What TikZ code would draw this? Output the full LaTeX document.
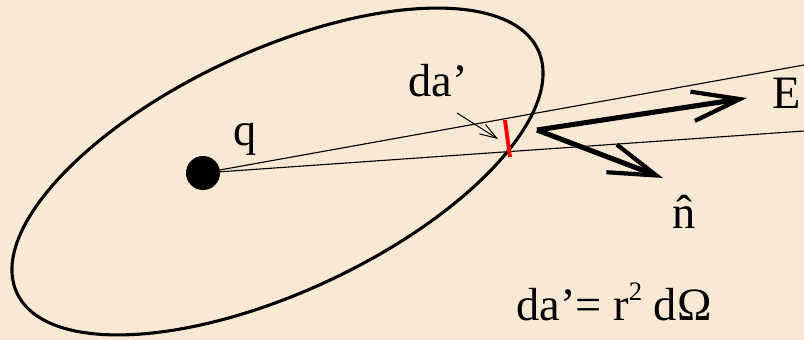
\documentclass[tikz,border=0pt]{standalone}
\usepackage{fontspec}
\setmainfont{Liberation Serif}
\usetikzlibrary{arrows.meta}
\definecolor{sfondo}{RGB}{248,232,212}
\newcommand{\apice}[1]{\raisebox{14pt}{\fontsize{19}{19}\selectfont #1}}

\begin{document}
\begin{tikzpicture}[x=0.025cm, y=-0.025cm]
	% Stili per testi e frecce di questa figura
	\tikzset{etichetta/.style={font=\fontsize{33}{38}\selectfont, inner sep=0pt},
		raggio/.style={line width=0.8pt},
		freccia/.style={line width=3.6pt, -{Straight Barb[length=34pt, width=21pt, line width=3pt]}}}
	
	% Sfondo e bordo della figura
	\fill[sfondo] (0,0) rectangle (804,340);
	\useasboundingbox (0,0) rectangle (804,340);
	
	% Superficie chiusa attorno alla carica
	\draw[line width=2.2pt, rotate around={25:(277.5,171.5)}] (277.5,171.5) ellipse [x radius=287.5, y radius=120.6];
	
	% Carica e cono dell'angolo solido
	\node[circle, fill=black, minimum size=0.85cm, inner sep=0pt] (q) at (203,173) {};
	\coordinate (R1) at (804,65);
	\coordinate (R2) at (804,131);
	\draw[raggio] (q.center) -- (R1);
	\draw[raggio] (q.center) -- (R2);
	
	% Elemento di superficie da'
	\coordinate (A1) at (505,120);
	\coordinate (A2) at (510,157);
	\draw[red, line width=2.8pt] (A1) -- (A2);
	
	% Campo e normale
	\coordinate (O) at (537,130);
	\coordinate (Ep) at (747,98);
	\coordinate (Np) at (663,178);
	\draw[freccia] (O) -- (Ep);
	\draw[freccia] (O) -- (Np);
	
	% Etichette
	\node[etichetta] (lq) at (245,139) {q};
	\node[etichetta] (lda) at (438,81) {da’};
	\node[etichetta] (lE) at (787,93) {E};
	\node[etichetta] (ln) at (684,212) {\^{n}};
	\node[etichetta] (lf) at (614,302) {da’= r\apice{2} dΩ};
	\coordinate (puntaA) at (498,139);
	\draw[line width=0.7pt, -{Straight Barb[length=12pt, width=8pt]}] (457,113) -- (puntaA);
\end{tikzpicture}
\end{document}
